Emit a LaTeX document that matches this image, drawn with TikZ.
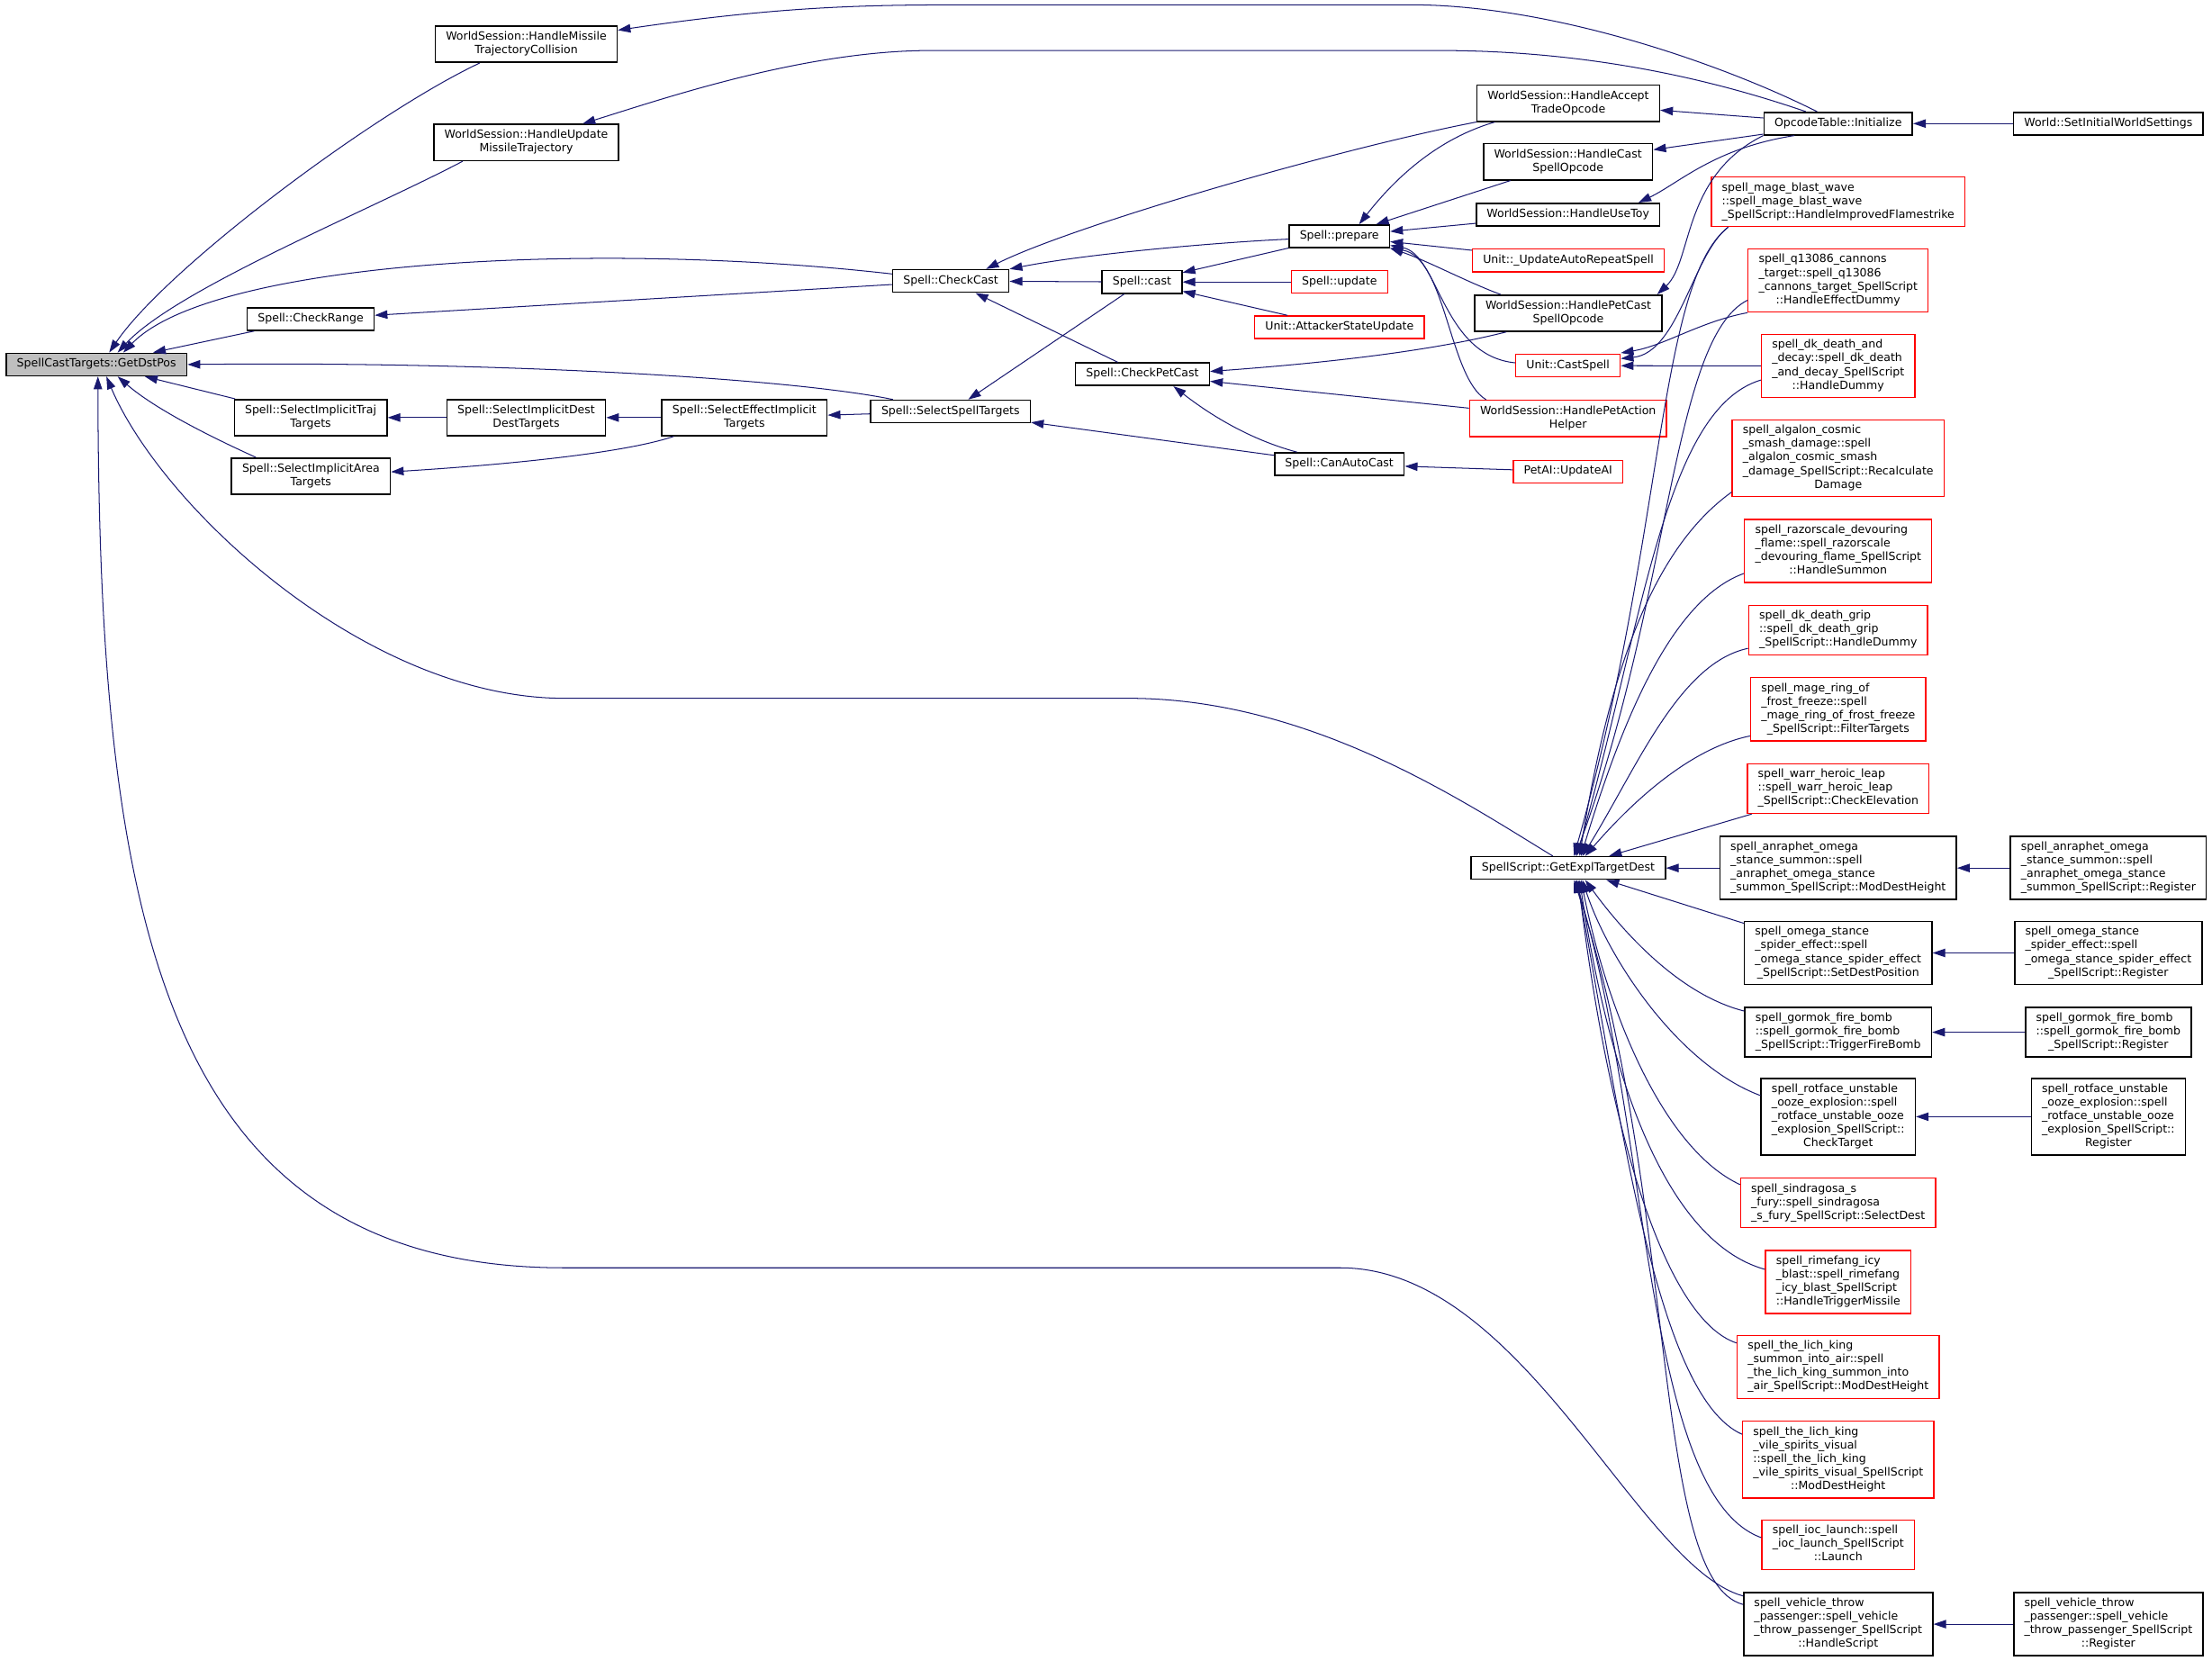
\documentclass[tikz,border=0pt]{standalone}
\usepackage{fontspec}
\usepackage{tikz}
\usetikzlibrary{arrows.meta,calc}
\newfontfamily\fnfont{DejaVu Sans}
\definecolor{midnight}{HTML}{191970}
\definecolor{nodegrey}{HTML}{BFBFBF}
\newcommand{\ntext}[1]{\begin{tabular}{@{}l@{}}#1\end{tabular}}
\newcommand{\lrow}[1]{\multicolumn{1}{@{}c@{}}{#1}}
\tikzset{
	fn/.style={draw=black, line width=1pt, fill=white, inner xsep=7.5pt, inner ysep=3.2pt, font=\fnfont\fontsize{8}{9.6}\selectfont},
	redfn/.style={fn, draw=red, line width=0.9pt},
	calls/.style={draw=midnight, line width=0.65pt, {Triangle[length=9pt,width=6pt]}-}
}
\begin{document}
\begin{tikzpicture}[x=1pt,y=-1pt]
		\useasboundingbox (0,0) rectangle (1568,1177.4);
		\node at (68.4,258.4) [fn, fill=nodegrey] (gdp) {\ntext{SpellCastTargets::GetDstPos}};
		\node at (373,31.4) [fn] (hmtc) {\ntext{WorldSession::HandleMissile\\\lrow{TrajectoryCollision}}};
		\node at (373,101) [fn] (humt) {\ntext{WorldSession::HandleUpdate\\\lrow{MissileTrajectory}}};
		\node at (220.2,226.2) [fn] (crange) {\ntext{Spell::CheckRange}};
		\node at (220.2,296) [fn] (sitt) {\ntext{Spell::SelectImplicitTraj\\\lrow{Targets}}};
		\node at (220.4,337.5) [fn] (siat) {\ntext{Spell::SelectImplicitArea\\\lrow{Targets}}};
		\node at (373,296) [fn] (siddt) {\ntext{Spell::SelectImplicitDest\\\lrow{DestTargets}}};
		\node at (527.7,296) [fn] (seit) {\ntext{Spell::SelectEffectImplicit\\\lrow{Targets}}};
		\node at (673.8,291.7) [fn] (sst) {\ntext{Spell::SelectSpellTargets}};
		\node at (674,199.2) [fn] (ccast) {\ntext{Spell::CheckCast}};
		\node at (809.5,199.9) [fn] (cast) {\ntext{Spell::cast}};
		\node at (809.8,265.3) [fn] (cpc) {\ntext{Spell::CheckPetCast}};
		\node at (949.4,329) [fn] (cac) {\ntext{Spell::CanAutoCast}};
		\node at (949.4,167.5) [fn] (prep) {\ntext{Spell::prepare}};
		\node at (949.5,199.9) [redfn] (upd) {\ntext{Spell::update}};
		\node at (949.5,232) [redfn] (asu) {\ntext{Unit::AttackerStateUpdate}};
		\node at (1111.7,73.2) [fn] (hato) {\ntext{WorldSession::HandleAccept\\\lrow{TradeOpcode}}};
		\node at (1111.5,114.7) [fn] (hcso) {\ntext{WorldSession::HandleCast\\\lrow{SpellOpcode}}};
		\node at (1111.5,152.1) [fn] (hut) {\ntext{WorldSession::HandleUseToy}};
		\node at (1111.7,184.6) [redfn] (uars) {\ntext{Unit::\_UpdateAutoRepeatSpell}};
		\node at (1111.7,222) [fn] (hpcso) {\ntext{WorldSession::HandlePetCast\\\lrow{SpellOpcode}}};
		\node at (1111.5,259.2) [redfn] (csp) {\ntext{Unit::CastSpell}};
		\node at (1111.5,296.6) [redfn] (hpah) {\ntext{WorldSession::HandlePetAction\\\lrow{Helper}}};
		\node at (1111.5,334.3) [redfn] (petai) {\ntext{PetAI::UpdateAI}};
		\node at (1303,87.6) [fn] (opc) {\ntext{OpcodeTable::Initialize}};
		\node at (1494.5,87.6) [fn] (wsiws) {\ntext{World::SetInitialWorldSettings}};
		\node at (1303,143) [redfn] (mbw) {\ntext{spell\_mage\_blast\_wave\\::spell\_mage\_blast\_wave\\\lrow{\_SpellScript::HandleImprovedFlamestrike}}};
		\node at (1303,198.8) [redfn] (q13) {\ntext{spell\_q13086\_cannons\\\_target::spell\_q13086\\\_cannons\_target\_SpellScript\\\lrow{::HandleEffectDummy}}};
		\node at (1303,259.4) [redfn] (dkdd) {\ntext{spell\_dk\_death\_and\\\_decay::spell\_dk\_death\\\_and\_decay\_SpellScript\\\lrow{::HandleDummy}}};
		\node at (1303,324.8) [redfn] (alg) {\ntext{spell\_algalon\_cosmic\\\_smash\_damage::spell\\\_algalon\_cosmic\_smash\\\_damage\_SpellScript::Recalculate\\\lrow{Damage}}};
		\node at (1303,390.5) [redfn] (raz) {\ntext{spell\_razorscale\_devouring\\\_flame::spell\_razorscale\\\_devouring\_flame\_SpellScript\\\lrow{::HandleSummon}}};
		\node at (1303,446.6) [redfn] (dkg) {\ntext{spell\_dk\_death\_grip\\::spell\_dk\_death\_grip\\\lrow{\_SpellScript::HandleDummy}}};
		\node at (1303,502.7) [redfn] (mrf) {\ntext{spell\_mage\_ring\_of\\\_frost\_freeze::spell\\\_mage\_ring\_of\_frost\_freeze\\\lrow{\_SpellScript::FilterTargets}}};
		\node at (1303,559) [redfn] (whl) {\ntext{spell\_warr\_heroic\_leap\\::spell\_warr\_heroic\_leap\\\lrow{\_SpellScript::CheckElevation}}};
		\node at (1111.7,615.3) [fn] (gets) {\ntext{SpellScript::GetExplTargetDest}};
		\node at (1303,615.3) [fn] (anr) {\ntext{spell\_anraphet\_omega\\\_stance\_summon::spell\\\_anraphet\_omega\_stance\\\lrow{\_summon\_SpellScript::ModDestHeight}}};
		\node at (1494.5,615.3) [fn] (anrr) {\ntext{spell\_anraphet\_omega\\\_stance\_summon::spell\\\_anraphet\_omega\_stance\\\lrow{\_summon\_SpellScript::Register}}};
		\node at (1303,675.5) [fn] (oms) {\ntext{spell\_omega\_stance\\\_spider\_effect::spell\\\_omega\_stance\_spider\_effect\\\lrow{\_SpellScript::SetDestPosition}}};
		\node at (1494.5,675.5) [fn] (omsr) {\ntext{spell\_omega\_stance\\\_spider\_effect::spell\\\_omega\_stance\_spider\_effect\\\lrow{\_SpellScript::Register}}};
		\node at (1303,731.7) [fn] (gfb) {\ntext{spell\_gormok\_fire\_bomb\\::spell\_gormok\_fire\_bomb\\\lrow{\_SpellScript::TriggerFireBomb}}};
		\node at (1494.5,731.7) [fn] (gfbr) {\ntext{spell\_gormok\_fire\_bomb\\::spell\_gormok\_fire\_bomb\\\lrow{\_SpellScript::Register}}};
		\node at (1303,791.6) [fn] (rot) {\ntext{spell\_rotface\_unstable\\\_ooze\_explosion::spell\\\_rotface\_unstable\_ooze\\\_explosion\_SpellScript::\\\lrow{CheckTarget}}};
		\node at (1494.5,791.6) [fn] (rotr) {\ntext{spell\_rotface\_unstable\\\_ooze\_explosion::spell\\\_rotface\_unstable\_ooze\\\_explosion\_SpellScript::\\\lrow{Register}}};
		\node at (1303,852.7) [redfn] (sin) {\ntext{spell\_sindragosa\_s\\\_fury::spell\_sindragosa\\\lrow{\_s\_fury\_SpellScript::SelectDest}}};
		\node at (1303,908.8) [redfn] (rim) {\ntext{spell\_rimefang\_icy\\\_blast::spell\_rimefang\\\_icy\_blast\_SpellScript\\\lrow{::HandleTriggerMissile}}};
		\node at (1303,969) [redfn] (lks) {\ntext{spell\_the\_lich\_king\\\_summon\_into\_air::spell\\\_the\_lich\_king\_summon\_into\\\lrow{\_air\_SpellScript::ModDestHeight}}};
		\node at (1303,1034.7) [redfn] (vile) {\ntext{spell\_the\_lich\_king\\\_vile\_spirits\_visual\\::spell\_the\_lich\_king\\\_vile\_spirits\_visual\_SpellScript\\\lrow{::ModDestHeight}}};
		\node at (1303,1095) [redfn] (ioc) {\ntext{spell\_ioc\_launch::spell\\\_ioc\_launch\_SpellScript\\\lrow{::Launch}}};
		\node at (1303,1151.3) [fn] (veh) {\ntext{spell\_vehicle\_throw\\\_passenger::spell\_vehicle\\\_throw\_passenger\_SpellScript\\\lrow{::HandleScript}}};
		\node at (1494.5,1151.3) [fn] (vehr) {\ntext{spell\_vehicle\_throw\\\_passenger::spell\_vehicle\\\_throw\_passenger\_SpellScript\\\lrow{::Register}}};
		\draw[calls] ([xshift=9]gdp.north) .. controls (118,190) and (265,80) .. ([xshift=-33]hmtc.south);
		\draw[calls] ([xshift=15]gdp.north) .. controls (125,205) and (260,150) .. ([xshift=-45]humt.south);
		\draw[calls] ([xshift=19]gdp.north) .. controls (150,185) and (420,170) .. ([yshift=5]ccast.west);
		\draw[calls] (gdp) -- (crange);
		\draw[calls] (gdp.east) .. controls (350,256) and (560,268) .. (sst);
		\draw[calls] (gdp) -- (sitt);
		\draw[calls] ([xshift=15]gdp.south) .. controls (110,290) and (150,310) .. ([xshift=-39]siat.north);
		\draw[calls] ([xshift=7]gdp.south) .. controls (115,360) and (260,495) .. (400,495) -- (800,495) .. controls (930,495) and (1040,570) .. ([xshift=-11]gets.north);
		\draw[calls] ([xshift=1]gdp.south) .. controls (70,650) and (115,898.7) .. (400,898.7) -- (950,898.7) .. controls (1080,898.7) and (1160,1110) .. ([yshift=20]veh.west);
		\draw[calls] ([yshift=10]hmtc.east) .. controls (560,3.4) and (620,3.4) .. (700,3.4) -- (1000,3.4) .. controls (1100,3.4) and (1220,45) .. ([xshift=-15]opc.north);
		\draw[calls] ([xshift=40]humt.north) .. controls (470,70) and (570,35.8) .. (660,35.8) -- (1020,35.8) .. controls (1140,35.8) and (1230,62) .. ([xshift=-23]opc.north);
		\draw[calls] (crange) -- (ccast);
		\draw[calls] (sitt) -- (siddt);
		\draw[calls] (siddt) -- (seit);
		\draw[calls] ([yshift=3]siat.east) .. controls (350,330) and (440,322) .. ([xshift=-50]seit.south);
		\draw[calls] (seit) -- (sst);
		\draw[calls] (sst) -- (cast);
		\draw[calls] (sst) -- (cac);
		\draw[calls] (ccast.north east) .. controls (770,180) and (860,172) .. ([yshift=-2]prep.west);
		\draw[calls] (ccast) -- (cast);
		\draw[calls] ([xshift=25]ccast.north) .. controls (760,160) and (950,105) .. (hato.south west);
		\draw[calls] (ccast) -- (cpc);
		\draw[calls] (cast) -- (prep);
		\draw[calls] (cast) -- (upd);
		\draw[calls] (cast) -- (asu);
		\draw[calls] ([xshift=14]prep.north) .. controls (990,125) and (1020,98) .. ([xshift=-52]hato.south);
		\draw[calls] (prep) -- (hcso);
		\draw[calls] (prep) -- (hut);
		\draw[calls] (prep) -- (uars);
		\draw[calls] (prep.south east) .. controls (1010,184) and (1040,200) .. ([xshift=-48]hpcso.north);
		\draw[calls] ([yshift=2]prep.south east) .. controls (1020,180) and (1022,252) .. ([yshift=2]csp.west);
		\draw[calls] (prep.south east) .. controls (1025,182) and (1027,268) .. ([xshift=-58]hpah.north);
		\draw[calls] ([yshift=2]cpc.east) .. controls (930,258) and (1010,250) .. ([xshift=-44]hpcso.south);
		\draw[calls] (cpc) -- (hpah);
		\draw[calls] ([xshift=22]cpc.south) .. controls (850,288) and (880,310) .. ([xshift=-30]cac.north);
		\draw[calls] (cac) -- (petai);
		\draw[calls] (hato) -- (opc);
		\draw[calls] (hcso) -- (opc);
		\draw[calls] ([xshift=50]hut.north) .. controls (1190,130) and (1215,105) .. ([xshift=-31]opc.south);
		\draw[calls] ([xshift=63]hpcso.north) .. controls (1200,185) and (1192,125) .. (opc.south west);
		\draw[calls] (opc) -- (wsiws);
		\draw[calls] ([yshift=5]csp.east) .. controls (1190,250) and (1200,180) .. ([xshift=-78]mbw.south);
		\draw[calls] ([yshift=9]csp.east) .. controls (1180,245) and (1205,228) .. (q13.south west);
		\draw[calls] (csp) -- (dkdd);
		\draw[calls] ([xshift=4]gets.north) .. controls (1180,380) and (1175,200) .. ([xshift=-78]mbw.south);
		\draw[calls] ([xshift=5]gets.north) .. controls (1185,420) and (1185,240) .. ([yshift=-14]q13.west);
		\draw[calls] ([xshift=6]gets.north) .. controls (1165,440) and (1180,290) .. ([yshift=-10]dkdd.west);
		\draw[calls] ([xshift=8]gets.north) .. controls (1140,480) and (1170,390) .. ([yshift=-24]alg.west);
		\draw[calls] ([xshift=9]gets.north) .. controls (1150,510) and (1185,425) .. ([yshift=-16]raz.west);
		\draw[calls] ([xshift=10]gets.north) .. controls (1160,545) and (1190,470) .. ([yshift=-13]dkg.west);
		\draw[calls] ([xshift=12]gets.north) .. controls (1160,565) and (1200,530) .. ([yshift=-19]mrf.west);
		\draw[calls] (gets) -- (whl);
		\draw[calls] (gets) -- (anr);
		\draw[calls] (gets) -- (oms);
		\draw[calls] ([xshift=12]gets.south) .. controls (1150,660) and (1190,705) .. ([yshift=15]gfb.west);
		\draw[calls] ([xshift=10]gets.south) .. controls (1140,680) and (1190,755) .. ([yshift=15]rot.west);
		\draw[calls] ([xshift=9]gets.south) .. controls (1140,720) and (1180,815) .. ([yshift=13]sin.west);
		\draw[calls] ([xshift=8]gets.south) .. controls (1140,760) and (1180,880) .. ([yshift=9]rim.west);
		\draw[calls] ([xshift=7]gets.south) .. controls (1140,800) and (1180,935) .. ([yshift=17]lks.west);
		\draw[calls] ([xshift=6]gets.south) .. controls (1150,800) and (1175,990) .. ([yshift=18]vile.west);
		\draw[calls] ([xshift=5]gets.south) .. controls (1170,800) and (1165,1060) .. ([yshift=5]ioc.west);
		\draw[calls] ([xshift=4]gets.south) .. controls (1190,850) and (1170,1120) .. ([yshift=14]veh.west);
		\draw[calls] (anr) -- (anrr);
		\draw[calls] (oms) -- (omsr);
		\draw[calls] (gfb) -- (gfbr);
		\draw[calls] (rot) -- (rotr);
		\draw[calls] (veh) -- (vehr);
\end{tikzpicture}
\end{document}
